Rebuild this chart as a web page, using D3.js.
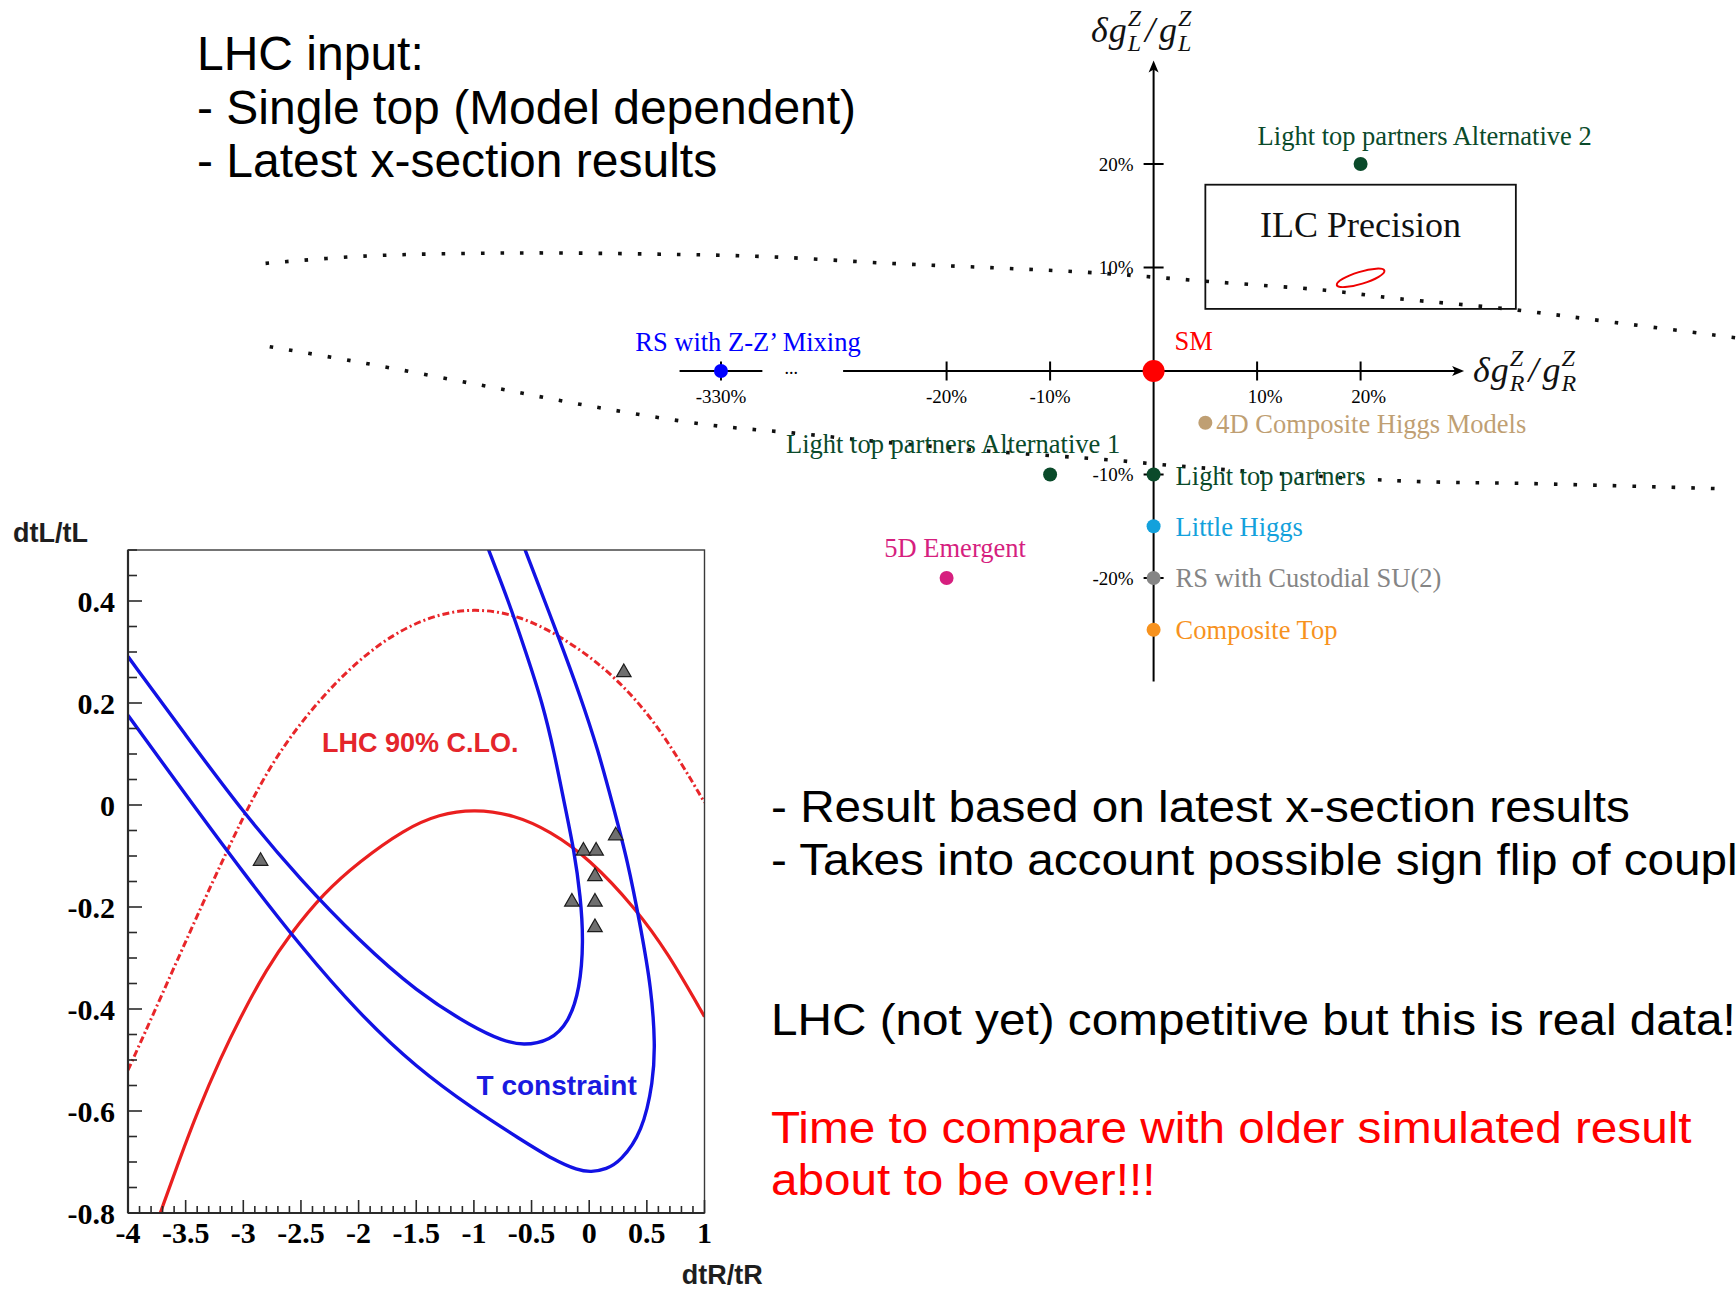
<!DOCTYPE html>
<html>
<head>
<meta charset="utf-8">
<script src="https://cdn.jsdelivr.net/npm/d3@7"></script>
<style>
  html, body { margin: 0; padding: 0; background: #fff; }
  svg { display: block; }
</style>
</head>
<body>
<svg id="slide" width="1736" height="1290"></svg>
<script>
// ---------------------------------------------------------------
// Upper chart: model predictions for the top-quark Z couplings (%)
// ---------------------------------------------------------------
const modelNames = [
  "SM",
  "RS with Z-Z\u2019 Mixing",
  "Light top partners Alternative 2",
  "4D Composite Higgs Models",
  "Light top partners Alternative 1",
  "Light top partners",
  "Little Higgs",
  "5D Emergent",
  "RS with Custodial SU(2)",
  "Composite Top"
];
const modelR = [0, -330, 20, 5, -10, 0, 0, -20, 0, 0];     // δgR/gR in %
const modelL = [0, 0, 20, -5, -10, -10, -15, -20, -20, -25]; // δgL/gL in %

const upperTicksR = [-20, -10, 10, 20];
const upperTicksL = [20, 10, -10, -20];
const breakTicksR = [-330];

// ILC precision region and expected ellipse (in %)
const ilcBoxR = [5, 35];
const ilcBoxL = [6, 18];
const ilcCentre = [20, 9];
const ilcSemiAxes = [2.4, 0.58];
const ilcTilt = 17;

// dotted guides linking the LHC plot to the coupling plane (in %)
const upperGuide = [[-85.8, 10.4], [-76.3, 11.1], [-62.4, 11.4], [-48.5, 11.3], [-37.4, 11.05],
  [-25.5, 10.4], [-15.2, 9.96], [-5.9, 9.5], [6.0, 8.6], [16.6, 7.8], [23.5, 7.0],
  [34.1, 6.0], [44.5, 4.7], [56.3, 3.2]];
const lowerGuide = [[-85.4, 2.35], [-76.3, 0.77], [-65.1, -1.35], [-54.1, -3.45], [-43.0, -5.2],
  [-34.7, -6.0], [-26.4, -6.84], [-15.2, -7.8], [-4.1, -8.6], [2.6, -9.2], [23.5, -10.6],
  [37.6, -10.9], [55.7, -11.4]];

// ---------------------------------------------------------------
// Lower plot: LHC constraints on dtR/tR vs dtL/tL
// ---------------------------------------------------------------
const tInner = [[-4.0, 0.291], [-3.5, 0.137], [-3.0, -0.015], [-2.5, -0.148], [-2.0, -0.265],
  [-1.5, -0.366], [-1.0, -0.437], [-0.75, -0.462], [-0.575, -0.472], [-0.336, -0.462],
  [-0.177, -0.426], [-0.081, -0.361], [-0.049, -0.267], [-0.075, -0.18], [-0.13, -0.09],
  [-0.213, 0.0], [-0.30, 0.1], [-0.405, 0.2], [-0.55, 0.3], [-0.70, 0.4], [-0.873, 0.5],
  [-0.9, 0.518]];
const tOuter = [[-4.0, 0.176], [-3.5, 0.02], [-3.0, -0.133], [-2.5, -0.278], [-2.0, -0.408],
  [-1.5, -0.515], [-1.0, -0.597], [-0.6, -0.655], [-0.3, -0.697], [-0.1, -0.716], [0.015, -0.72],
  [0.15, -0.714], [0.27, -0.699], [0.461, -0.642], [0.556, -0.541], [0.572, -0.469], [0.54, -0.361],
  [0.445, -0.238], [0.333, -0.109], [0.206, -0.001], [0.078, 0.107], [-0.081, 0.216],
  [-0.256, 0.3235], [-0.555, 0.5], [-0.59, 0.52]];
const lhcSolid = [[-3.72, -0.80], [-3.55, -0.693], [-3.4, -0.603], [-3.2, -0.497], [-3.0, -0.405],
  [-2.8, -0.323], [-2.6, -0.255], [-2.3, -0.172], [-2.0, -0.112], [-1.6, -0.047], [-1.3, -0.018],
  [-1.0, -0.008], [-0.65, -0.019], [-0.34, -0.051], [0.0, -0.105], [0.4, -0.202],
  [0.68, -0.289], [1.0, -0.415]];
const lhcDashed = [[-4.0, -0.52], [-3.711, -0.375], [-3.422, -0.228], [-3.133, -0.085],
  [-2.872, 0.035], [-2.6, 0.135], [-2.2, 0.243], [-1.8, 0.322], [-1.4, 0.37], [-1.0, 0.387],
  [-0.6, 0.372], [-0.2, 0.325], [0.2, 0.258], [0.6, 0.158], [1.0, 0.005]];
const benchmarks = [[-2.85, -0.11], [0.30, 0.26], [0.23, -0.06], [-0.05, -0.09], [0.06, -0.09],
  [0.05, -0.14], [-0.15, -0.19], [0.05, -0.19], [0.05, -0.24]];

const lowerTicksX = [-4, -3.5, -3, -2.5, -2, -1.5, -1, -0.5, 0, 0.5, 1];
const lowerTicksY = [-0.8, -0.6, -0.4, -0.2, 0, 0.2, 0.4];

// slide text
const introLines = ["LHC input:", "- Single top (Model dependent)", "- Latest x-section results"];
const resultLines = ["- Result based on latest x-section results",
  "- Takes into account possible sign flip of couplings"];
const outlookLine = "LHC (not yet) competitive but this is real data!";
const callLines = ["Time to compare with older simulated result", "about to be over!!!"];

// ---------------------------------------------------------------
// styles and layout
// ---------------------------------------------------------------
const SERIF = "'Liberation Serif','Times New Roman',serif";
const SANS = "'Liberation Sans',Arial,Helvetica,sans-serif";
const modelColors = ["#ff0000", "#0000ff", "#0a4a2a", "#bf9f73", "#0a4a2a", "#0a4a2a",
  "#13a1dc", "#d61f7f", "#858585", "#f7921e"];
const labelLayout = [
  { dx: 21, dy: -21, anchor: "start" },
  { dx: 27, dy: -20, anchor: "middle" },
  { dx: -103, dy: -19, anchor: "start" },
  { dx: 11, dy: 10, anchor: "start" },
  { dx: -97, dy: -22, anchor: "middle" },
  { dx: 22, dy: 10, anchor: "start" },
  { dx: 22, dy: 9.5, anchor: "start" },
  { dx: 8.5, dy: -21, anchor: "middle" },
  { dx: 22, dy: 9, anchor: "start" },
  { dx: 22, dy: 9, anchor: "start" }
];

const svg = d3.select("#slide");
svg.append("rect").attr("width", 1736).attr("height", 1290).attr("fill", "#fff");

// ---------------- slide text ----------------
const intro = svg.append("g").attr("font-family", SANS).attr("font-size", 48).attr("fill", "#000");
intro.selectAll("text").data(introLines).join("text")
  .attr("x", 197).attr("y", (d, i) => 70 + i * 53.5).text(d => d);

const notes = svg.append("g").attr("transform", "translate(771,0) scale(1.06,1)")
  .attr("font-family", SANS).attr("font-size", 45);
notes.selectAll("text.result").data(resultLines).join("text").attr("class", "result")
  .attr("x", 0).attr("y", (d, i) => 821.7 + i * 53.3).attr("fill", "#000").text(d => d);
notes.append("text").attr("x", 0).attr("y", 1035).attr("fill", "#000").text(outlookLine);
notes.selectAll("text.call").data(callLines).join("text").attr("class", "call")
  .attr("x", 0).attr("y", (d, i) => 1143.3 + i * 51.7).attr("fill", "#ff0000").text(d => d);

// ---------------- upper chart ----------------
const ux = d3.scaleLinear().domain([-30, 30]).range([843.1, 1464.1]);
const uy = d3.scaleLinear().domain([-30, 30]).range([681.5, 60.5]);
const breakShift = 288.2; // values beyond the axis break are drawn shifted by this amount
const pr = v => (v < -100 ? ux(v + breakShift) : ux(v));

const upper = svg.append("g").attr("class", "coupling-plane");

// ILC box and ellipse
upper.append("rect")
  .attr("x", ux(ilcBoxR[0])).attr("y", uy(ilcBoxL[1]))
  .attr("width", ux(ilcBoxR[1]) - ux(ilcBoxR[0])).attr("height", uy(ilcBoxL[0]) - uy(ilcBoxL[1]))
  .attr("fill", "none").attr("stroke", "#111").attr("stroke-width", 1.8);
upper.append("text").attr("x", ux(ilcCentre[0])).attr("y", uy(12.9))
  .attr("text-anchor", "middle").attr("font-family", SERIF).attr("font-size", 36).attr("fill", "#111")
  .text("ILC Precision");
upper.append("ellipse")
  .attr("transform", `translate(${ux(ilcCentre[0])},${uy(ilcCentre[1])}) rotate(${-ilcTilt})`)
  .attr("rx", ux(ilcSemiAxes[0]) - ux(0)).attr("ry", ux(ilcSemiAxes[1]) - ux(0))
  .attr("fill", "none").attr("stroke", "#ee0000").attr("stroke-width", 2);

// axes
const axisG = upper.append("g").attr("stroke", "#000").attr("stroke-width", 2);
axisG.append("line").attr("x1", pr(-30)).attr("x2", ux(30) - 8).attr("y1", uy(0)).attr("y2", uy(0));
axisG.append("line").attr("x1", pr(-334)).attr("x2", pr(-326)).attr("y1", uy(0)).attr("y2", uy(0));
axisG.append("line").attr("x1", ux(0)).attr("x2", ux(0)).attr("y1", uy(-30)).attr("y2", uy(30) + 8);
upper.append("path")
  .attr("d", `M${ux(30)},${uy(0)} L${ux(30) - 12},${uy(0) - 5} L${ux(30) - 9},${uy(0)} L${ux(30) - 12},${uy(0) + 5} Z`)
  .attr("fill", "#000");
upper.append("path")
  .attr("d", `M${ux(0)},${uy(30)} L${ux(0) - 5},${uy(30) + 12} L${ux(0)},${uy(30) + 9} L${ux(0) + 5},${uy(30) + 12} Z`)
  .attr("fill", "#000");
upper.append("text").attr("x", ux(-35)).attr("y", uy(0) + 3)
  .attr("text-anchor", "middle").attr("font-family", SERIF).attr("font-size", 18).text("...");

axisG.selectAll("line.tr").data(upperTicksR.concat(breakTicksR)).join("line").attr("class", "tr")
  .attr("x1", d => pr(d)).attr("x2", d => pr(d)).attr("y1", uy(0) - 9.5).attr("y2", uy(0) + 9.5);
axisG.selectAll("line.tl").data(upperTicksL).join("line").attr("class", "tl")
  .attr("y1", d => uy(d)).attr("y2", d => uy(d)).attr("x1", ux(0) - 10).attr("x2", ux(0) + 10);

const tickFont = g => g.attr("font-family", SERIF).attr("font-size", 19).attr("fill", "#000");
upper.append("g").call(tickFont).selectAll("text").data(upperTicksR.concat(breakTicksR)).join("text")
  .attr("x", d => pr(d) + (d > 0 ? 8 : 0)).attr("y", uy(0) + 31.7).attr("text-anchor", "middle")
  .text(d => d + "%");
upper.append("g").call(tickFont).selectAll("text").data(upperTicksL).join("text")
  .attr("x", ux(0) - 20).attr("y", d => uy(d) + 6.5).attr("text-anchor", "end")
  .text(d => d + "%");

// axis titles  δg^Z_L / g^Z_L  and  δg^Z_R / g^Z_R
function couplingTitle(x, y, subLetter) {
  const g = upper.append("g").attr("font-family", SERIF).attr("font-style", "italic").attr("fill", "#111");
  let cx = x;
  const put = (txt, size, yy) => g.append("text").attr("x", cx).attr("y", yy)
    .attr("font-size", size).text(txt).node().getComputedTextLength();
  cx += put("\u03B4", 36, y) + 1;
  cx += put("g", 36, y) + 1;
  const w = Math.max(put("Z", 24, y - 16), put(subLetter, 24, y + 9));
  cx += w + 4;
  cx += put("/", 36, y) + 4;
  cx += put("g", 36, y) + 1;
  put("Z", 24, y - 16); put(subLetter, 24, y + 9);
}
couplingTitle(1091, 42, "L");
couplingTitle(1473, 382, "R");

// dotted guides
const guideLine = d3.line().x(d => ux(d[0])).y(d => uy(d[1])).curve(d3.curveCatmullRom);
upper.selectAll("path.guide").data([upperGuide, lowerGuide]).join("path").attr("class", "guide")
  .attr("d", guideLine).attr("fill", "none").attr("stroke", "#111")
  .attr("stroke-width", 3.6).attr("stroke-dasharray", "3.6,16");

// model points and labels
const models = modelNames.map((name, i) => ({ name, r: modelR[i], l: modelL[i], i }));
upper.append("g").selectAll("circle").data(models).join("circle")
  .attr("cx", d => pr(d.r)).attr("cy", d => uy(d.l))
  .attr("r", d => (d.name === "SM" ? 11 : 7))
  .attr("fill", d => modelColors[d.i]);
upper.append("g").attr("font-family", SERIF).attr("font-size", 26.5)
  .selectAll("text").data(models).join("text")
  .attr("x", d => pr(d.r) + labelLayout[d.i].dx)
  .attr("y", d => uy(d.l) + labelLayout[d.i].dy)
  .attr("text-anchor", d => labelLayout[d.i].anchor)
  .attr("fill", d => modelColors[d.i])
  .text(d => d.name);

// ---------------- lower plot ----------------
const lx = d3.scaleLinear().domain([-4, 1]).range([128, 704.5]);
const ly = d3.scaleLinear().domain([-0.8, 0.5]).range([1213, 550]);
const lower = svg.append("g").attr("class", "lhc-plot");

lower.append("clipPath").attr("id", "frameClip").append("rect")
  .attr("x", lx(-4)).attr("y", ly(0.5)).attr("width", lx(1) - lx(-4)).attr("height", ly(-0.8) - ly(0.5));

const curve = d3.line().x(d => lx(d[0])).y(d => ly(d[1])).curve(d3.curveBasis);
const curves = lower.append("g").attr("clip-path", "url(#frameClip)").attr("fill", "none");
curves.append("path").attr("d", curve(lhcDashed)).attr("stroke", "#e8262a")
  .attr("stroke-width", 3).attr("stroke-dasharray", "7,3,2,3");
curves.append("path").attr("d", curve(lhcSolid)).attr("stroke", "#ea1f1f").attr("stroke-width", 3.2);
curves.selectAll("path.t").data([tInner, tOuter]).join("path").attr("class", "t")
  .attr("d", curve).attr("stroke", "#1212e4").attr("stroke-width", 3.4);

lower.append("g").selectAll("path").data(benchmarks).join("path")
  .attr("transform", d => `translate(${lx(d[0])},${ly(d[1])})`)
  .attr("d", d3.symbol().type(d3.symbolTriangle).size(92))
  .attr("fill", "#6f6f6f").attr("stroke", "#1c1c1c").attr("stroke-width", 1.2);

// frame and ticks
lower.append("rect").attr("x", lx(-4)).attr("y", ly(0.5))
  .attr("width", lx(1) - lx(-4)).attr("height", ly(-0.8) - ly(0.5))
  .attr("fill", "none").attr("stroke", "#3a3a3a").attr("stroke-width", 1.4);
const tickG = lower.append("g").attr("stroke", "#2a2a2a").attr("stroke-width", 1.6);
tickG.append("line").attr("x1", lx(-4)).attr("x2", lx(1)).attr("y1", ly(-0.8)).attr("y2", ly(-0.8)).attr("stroke-width", 2.2);
tickG.append("line").attr("x1", lx(-4)).attr("x2", lx(-4)).attr("y1", ly(-0.8)).attr("y2", ly(0.5)).attr("stroke-width", 2.2);
const minorX = d3.range(-40, 11).map(k => k / 10);
const minorY = d3.range(-16, 11).map(k => k / 20);
tickG.selectAll("line.mx").data(minorX).join("line").attr("class", "mx")
  .attr("x1", d => lx(d)).attr("x2", d => lx(d)).attr("y1", ly(-0.8))
  .attr("y2", d => ly(-0.8) - (Math.abs(d * 2 - Math.round(d * 2)) < 1e-6 ? 13 : 7));
tickG.selectAll("line.my").data(minorY).join("line").attr("class", "my")
  .attr("y1", d => ly(d)).attr("y2", d => ly(d)).attr("x1", lx(-4))
  .attr("x2", d => lx(-4) + (Math.abs(d * 5 - Math.round(d * 5)) < 1e-6 ? 14 : 9));

const fmt = v => String(+v.toFixed(1));
lower.append("g").attr("font-family", SERIF).attr("font-weight", "bold").attr("font-size", 30).attr("fill", "#000")
  .selectAll("text").data(lowerTicksX).join("text")
  .attr("x", d => lx(d)).attr("y", 1243).attr("text-anchor", "middle").text(fmt);
lower.append("g").attr("font-family", SERIF).attr("font-weight", "bold").attr("font-size", 30).attr("fill", "#000")
  .selectAll("text").data(lowerTicksY).join("text")
  .attr("x", 115).attr("y", d => ly(d) + 11).attr("text-anchor", "end").text(fmt);

lower.append("text").attr("x", 13).attr("y", 541.7).attr("font-family", SANS).attr("font-weight", "bold")
  .attr("font-size", 27).attr("fill", "#1e1e1e").text("dtL/tL");
lower.append("text").attr("x", 681.7).attr("y", 1284).attr("font-family", SANS).attr("font-weight", "bold")
  .attr("font-size", 27).attr("fill", "#1e1e1e").text("dtR/tR");
lower.append("text").attr("x", 322).attr("y", 752).attr("font-family", SANS).attr("font-weight", "bold")
  .attr("font-size", 27).attr("fill", "#e4252b").text("LHC 90% C.LO.");
lower.append("text").attr("x", 476.5).attr("y", 1094.5).attr("font-family", SANS).attr("font-weight", "bold")
  .attr("font-size", 28).attr("fill", "#1a1ae0").text("T constraint");
</script>
</body>
</html>
